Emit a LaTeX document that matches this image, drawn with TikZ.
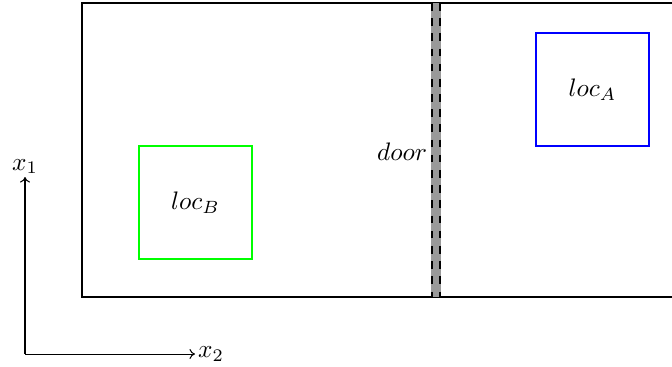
\documentclass[tikz,border=0pt]{standalone}
\usetikzlibrary{arrows.meta}
\begin{document}
\begin{tikzpicture}[x=0.013889cm,y=-0.013889cm,
  wall/.style={draw=black,thick},
  doorline/.style={draw=black,thick,dashed},
  locbox/.style={draw,thick,minimum size=1.569cm,inner sep=0pt},
  axis/.style={draw=black,thin,-{To[length=2.2pt,width=4pt]}}]
\useasboundingbox (0,0) rectangle (672,366);
\clip (0,0) rectangle (672,366);
% room walls
\coordinate (tr) at (700,3);
\coordinate (tl) at (82,3);
\coordinate (bl) at (82,297);
\coordinate (br) at (700,297);
\draw[wall] (tr) -- (tl) -- (bl) -- (br);
% door
\fill[gray!80] (431,3) rectangle (441,297);
\coordinate (d1t) at (432,3);
\coordinate (d1b) at (432,297);
\coordinate (d2t) at (440,3);
\coordinate (d2b) at (440,297);
\draw[doorline] (d1t) -- (d1b);
\draw[doorline] (d2t) -- (d2b);
\node[anchor=east,inner sep=1pt] (door) at (430,152) {$door$};
% locations
\node[locbox,draw=green] (locB) at (195.5,202.5) {$loc_B$};
\node[locbox,draw=blue] (locA) at (592.5,89.5) {$loc_A$};
% axes
\coordinate (o) at (25,354);
\node[anchor=west,inner sep=1pt] (x2) at (195,354) {$x_2$};
\node[anchor=south,inner sep=1pt] (x1) at (25,177) {$x_1$};
\draw[axis] (o) -- (x2.west);
\draw[axis] (o) -- (x1.south);
\end{tikzpicture}
\end{document}
